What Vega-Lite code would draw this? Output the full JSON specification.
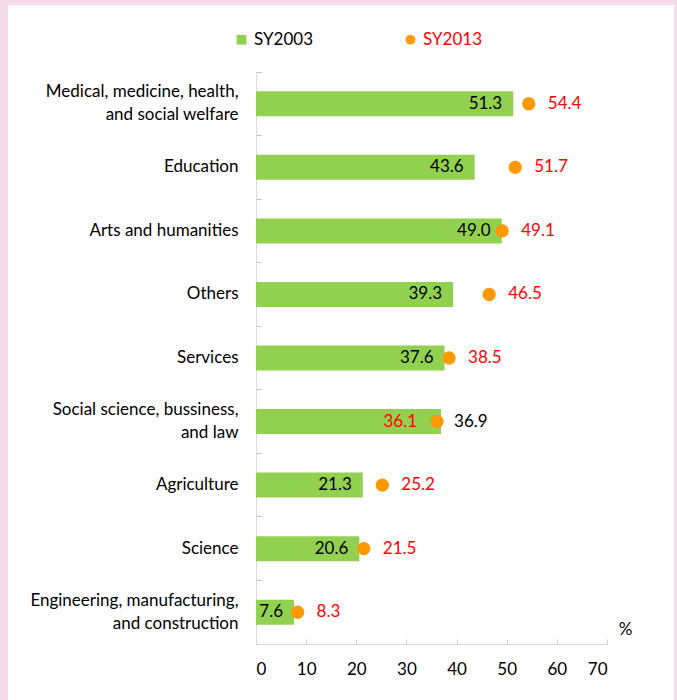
{
  "$schema": "https://vega.github.io/schema/vega-lite/v6.json",
  "width": 666,
  "height": 695,
  "autosize": {"type": "none"},
  "padding": {"left": 8, "top": 5, "right": 3, "bottom": 0},
  "background": "#f7dcea",
  "config": {"view": {"fill": "white", "stroke": null}, "font": "Lato"},
  "data": {
    "values": [
      {"category": "Medical, medicine, health,|and social welfare", "SY2003": 51.3, "SY2013": 54.4},
      {"category": "Education", "SY2003": 43.6, "SY2013": 51.7},
      {"category": "Arts and humanities", "SY2003": 49.0, "SY2013": 49.1},
      {"category": "Others", "SY2003": 39.3, "SY2013": 46.5},
      {"category": "Services", "SY2003": 37.6, "SY2013": 38.5},
      {"category": "Social science, bussiness,|and law", "SY2003": 36.9, "SY2013": 36.1},
      {"category": "Agriculture", "SY2003": 21.3, "SY2013": 25.2},
      {"category": "Science", "SY2003": 20.6, "SY2013": 21.5},
      {"category": "Engineering, manufacturing,|and construction", "SY2003": 7.6, "SY2013": 8.3}
    ]
  },
  "encoding": {
    "y": {
      "field": "category",
      "type": "nominal",
      "sort": null,
      "title": null,
      "scale": {"range": [67, 639], "paddingInner": 0, "paddingOuter": 0},
      "axis": {
        "offset": -248,
        "bandPosition": 0,
        "tickSize": -5,
        "tickColor": "#bfbfbf",
        "domainColor": "#d9d9d9",
        "labelPadding": 23,
        "labelFontSize": 17,
        "labelColor": "#000000",
        "labelLimit": 300,
        "labelLineHeight": 23,
        "labelOffset": {"condition": {"test": "indexof(datum.value, '|') >= 0", "value": -11.5}, "value": 0},
        "labelExpr": "split(datum.label, '|')",
        "grid": false
      }
    }
  },
  "layer": [
    {
      "transform": [
        {"fold": ["SY2003", "SY2013"], "as": ["series", "value"]},
        {"filter": "datum.series === 'SY2003'"}
      ],
      "mark": {"type": "bar", "size": 25},
      "encoding": {
        "x": {
          "field": "value",
          "type": "quantitative",
          "title": "%",
          "scale": {"domain": [0, 70], "range": [248, 599], "nice": false, "zero": true},
          "axis": {
            "offset": -56,
            "values": [0, 10, 20, 30, 40, 50, 60, 70],
            "tickSize": -5,
            "tickColor": "#d0d0d0",
            "domainColor": "#d9d9d9",
            "grid": false,
            "labelFontSize": 17,
            "labelColor": "#000000",
            "labelPadding": 22,
            "titleFontSize": 17,
            "titleFontWeight": "normal",
            "titleColor": "#000000",
            "titleX": 617,
            "titleY": -15,
            "titleBaseline": "middle",
            "titleAlign": "center"
          }
        },
        "color": {
          "field": "series",
          "type": "nominal",
          "scale": {"domain": ["SY2003", "SY2013"], "range": ["#92d050", "#ff9900"]},
          "legend": {
            "orient": "none",
            "legendX": 225,
            "legendY": 26,
            "direction": "horizontal",
            "title": null,
            "labelFontSize": 17,
            "labelColor": "#000000",
            "symbolSize": 95,
            "symbolStrokeWidth": 0,
            "symbolOpacity": 1,
            "columnPadding": 88,
            "labelOffset": 4,
            "padding": 0,
            "encode": {
              "labels": {"update": {"fill": {"signal": "datum.value === 'SY2013' ? '#ff0000' : '#000000'"}}}
            }
          }
        }
      }
    },
    {
      "transform": [
        {"fold": ["SY2003", "SY2013"], "as": ["series", "value"]},
        {"filter": "datum.series === 'SY2013'"}
      ],
      "mark": {"type": "point", "filled": true, "size": 177, "opacity": 1},
      "encoding": {
        "x": {"field": "value", "type": "quantitative", "title": "%"},
        "color": {"field": "series", "type": "nominal"},
        "shape": {
          "field": "series",
          "type": "nominal",
          "scale": {"domain": ["SY2003", "SY2013"], "range": ["square", "circle"]},
          "legend": {
            "orient": "none",
            "legendX": 225,
            "legendY": 26,
            "direction": "horizontal",
            "title": null,
            "labelFontSize": 17,
            "labelColor": "#000000",
            "symbolSize": 95,
            "symbolStrokeWidth": 0,
            "symbolOpacity": 1,
            "columnPadding": 88,
            "labelOffset": 4,
            "padding": 0,
            "encode": {
              "labels": {"update": {"fill": {"signal": "datum.value === 'SY2013' ? '#ff0000' : '#000000'"}}}
            }
          }
        }
      }
    },
    {
      "transform": [{"filter": "datum.SY2013 >= datum.SY2003"}],
      "mark": {"type": "text", "align": "right", "dx": -11, "fontSize": 17, "color": "#000000"},
      "encoding": {
        "x": {"field": "SY2003", "type": "quantitative", "title": "%"},
        "text": {"field": "SY2003", "type": "quantitative", "format": ".1f"}
      }
    },
    {
      "transform": [{"filter": "datum.SY2013 < datum.SY2003"}],
      "mark": {"type": "text", "align": "left", "dx": 13, "fontSize": 17, "color": "#000000"},
      "encoding": {
        "x": {"field": "SY2003", "type": "quantitative", "title": "%"},
        "text": {"field": "SY2003", "type": "quantitative", "format": ".1f"}
      }
    },
    {
      "transform": [{"filter": "datum.SY2013 >= datum.SY2003"}],
      "mark": {"type": "text", "align": "left", "dx": 19, "fontSize": 17, "color": "#ff0000"},
      "encoding": {
        "x": {"field": "SY2013", "type": "quantitative", "title": "%"},
        "text": {"field": "SY2013", "type": "quantitative", "format": ".1f"}
      }
    },
    {
      "transform": [{"filter": "datum.SY2013 < datum.SY2003"}],
      "mark": {"type": "text", "align": "right", "dx": -20, "fontSize": 17, "color": "#ff0000"},
      "encoding": {
        "x": {"field": "SY2013", "type": "quantitative", "title": "%"},
        "text": {"field": "SY2013", "type": "quantitative", "format": ".1f"}
      }
    }
  ]
}
